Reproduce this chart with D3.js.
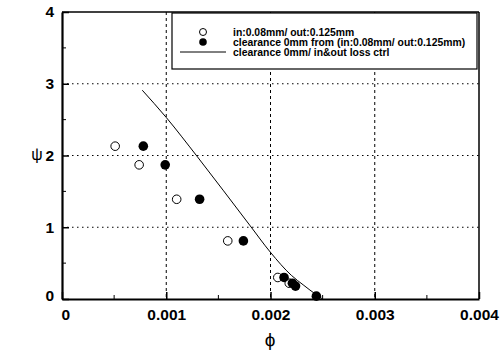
<!DOCTYPE html>
<html>
<head>
<meta charset="utf-8">
<script src="https://cdn.jsdelivr.net/npm/d3@7.9.0/dist/d3.min.js"></script>
<style>
  body { margin: 0; background: #fff; }
  svg text { font-family: "Liberation Sans", Arial, sans-serif; }
</style>
</head>
<body>
<svg id="chart" width="501" height="355"></svg>
<script>
// open circles: in:0.08mm / out:0.125mm
const openPhi = [0.00051, 0.00074, 0.00110, 0.00159, 0.00207, 0.00218];
const openPsi = [2.13, 1.87, 1.39, 0.81, 0.30, 0.22];

// filled circles: clearance 0mm from (in:0.08mm/ out:0.125mm)
const fillPhi = [0.00078, 0.00099, 0.00132, 0.00174, 0.00213, 0.00221, 0.00224, 0.00244];
const fillPsi = [2.13, 1.87, 1.39, 0.81, 0.30, 0.22, 0.18, 0.04];

// line: clearance 0mm/ in&out loss ctrl
const linePhi = [0.00077, 0.00100, 0.00130, 0.00180, 0.00200, 0.00220, 0.00232, 0.00242, 0.00250];
const linePsi = [2.91, 2.53, 1.98, 1.03, 0.65, 0.33, 0.19, 0.08, 0.00];

const xTicks = [0, 0.001, 0.002, 0.003, 0.004];
const xTickLabels = ['0', '0.001', '0.002', '0.003', '0.004'];
const yTicks = [0, 1, 2, 3, 4];
const legendLabels = [
  'in:0.08mm/ out:0.125mm',
  'clearance 0mm from (in:0.08mm/ out:0.125mm)',
  'clearance 0mm/ in&out loss ctrl'
];

const svg = d3.select('#chart');
const pLeft = 62, pRight = 479, pTop = 12, pBottom = 299;

const x = d3.scaleLinear().domain([0, 0.004]).range([pLeft, pRight]);
const y = d3.scaleLinear().domain([0, 4]).range([pBottom, pTop]);

// grid
svg.append('g').selectAll('line')
  .data(xTicks.slice(1, -1))
  .join('line')
  .attr('x1', d => x(d)).attr('x2', d => x(d))
  .attr('y1', pTop).attr('y2', pBottom)
  .attr('stroke', '#000').attr('stroke-width', 1)
  .attr('stroke-dasharray', '3,3');

svg.append('g').selectAll('line')
  .data(yTicks.slice(1, -1))
  .join('line')
  .attr('x1', pLeft).attr('x2', pRight)
  .attr('y1', d => y(d)).attr('y2', d => y(d))
  .attr('stroke', '#000').attr('stroke-width', 1)
  .attr('stroke-dasharray', '1.5,3.5');

// axes with inward ticks
const xAxis = d3.axisBottom(x).tickValues(xTicks)
  .tickFormat((d, i) => xTickLabels[i]).tickSizeInner(-7).tickSizeOuter(0).tickPadding(10);
const yAxis = d3.axisLeft(y).tickValues(yTicks)
  .tickFormat(d3.format('d')).tickSizeInner(-7).tickSizeOuter(0).tickPadding(8);

const gx = svg.append('g').attr('transform', `translate(0,${pBottom})`).call(xAxis);
const gy = svg.append('g').attr('transform', `translate(${pLeft},0)`).call(yAxis);

[gx, gy].forEach(g => {
  g.select('.domain').attr('stroke-width', 2.2);
  g.selectAll('.tick line').attr('stroke-width', 1.5);
  g.selectAll('.tick text')
    .attr('fill', '#000')
    .style('font-size', '15.5px')
    .style('font-weight', 'bold');
});
gx.selectAll('.tick text').attr('text-anchor', (d, i) => i === 0 ? 'start' : 'middle')
  .attr('dx', (d, i) => i === 0 ? -1 : 0);
gy.selectAll('.tick text').attr('dy', (d, i) => i === 0 ? '0.1em' : '0.32em');

// minor ticks
const xMinor = d3.range(0.0005, 0.004, 0.001);
const yMinor = d3.range(0.5, 4, 1);
svg.append('g').selectAll('line').data(xMinor).join('line')
  .attr('x1', d => x(d)).attr('x2', d => x(d))
  .attr('y1', pBottom).attr('y2', pBottom - 4)
  .attr('stroke', '#000').attr('stroke-width', 1);
svg.append('g').selectAll('line').data(yMinor).join('line')
  .attr('x1', pLeft).attr('x2', pLeft + 4)
  .attr('y1', d => y(d)).attr('y2', d => y(d))
  .attr('stroke', '#000').attr('stroke-width', 1);

// top and right frame
svg.append('line').attr('x1', pLeft).attr('x2', pRight).attr('y1', pTop).attr('y2', pTop)
  .attr('stroke', '#000').attr('stroke-width', 1.5);
svg.append('line').attr('x1', pRight).attr('x2', pRight).attr('y1', pTop).attr('y2', pBottom)
  .attr('stroke', '#000').attr('stroke-width', 1.5);

// curve
const line = d3.line().x(d => x(d[0])).y(d => y(d[1])).curve(d3.curveMonotoneX);
svg.append('path')
  .datum(d3.zip(linePhi, linePsi))
  .attr('d', line)
  .attr('fill', 'none')
  .attr('stroke', '#000')
  .attr('stroke-width', 1);

// points
svg.append('g').selectAll('circle')
  .data(d3.zip(openPhi, openPsi))
  .join('circle')
  .attr('cx', d => x(d[0])).attr('cy', d => y(d[1]))
  .attr('r', 4.3)
  .attr('fill', '#fff').attr('stroke', '#000').attr('stroke-width', 1);

svg.append('g').selectAll('circle')
  .data(d3.zip(fillPhi, fillPsi))
  .join('circle')
  .attr('cx', d => x(d[0])).attr('cy', d => y(d[1]))
  .attr('r', 4.8)
  .attr('fill', '#000');

// axis titles
svg.append('text').attr('x', 37).attr('y', 160)
  .attr('text-anchor', 'middle').style('font-size', '16px').text('ψ');
svg.append('text').attr('x', 270).attr('y', 346)
  .attr('text-anchor', 'middle').style('font-size', '19px').text('ϕ');

// legend
const lg = svg.append('g');
lg.append('rect').attr('x', 172).attr('y', 13).attr('width', 305).attr('height', 56)
  .attr('fill', '#fff').attr('stroke', '#000').attr('stroke-width', 1.2);
const rowY = [32, 42, 52];
lg.append('circle').attr('cx', 203).attr('cy', rowY[0]).attr('r', 3.5)
  .attr('fill', '#fff').attr('stroke', '#000').attr('stroke-width', 1);
lg.append('circle').attr('cx', 203).attr('cy', rowY[1]).attr('r', 3.8)
  .attr('fill', '#000');
lg.append('line').attr('x1', 180).attr('x2', 226).attr('y1', rowY[2]).attr('y2', rowY[2])
  .attr('stroke', '#000').attr('stroke-width', 1);
lg.selectAll('text.lab').data(legendLabels).join('text')
  .attr('class', 'lab')
  .attr('x', 233).attr('y', (d, i) => rowY[i] + 3.5)
  .style('font-size', '10.4px').style('font-weight', 'bold')
  .text(d => d);
</script>
</body>
</html>
